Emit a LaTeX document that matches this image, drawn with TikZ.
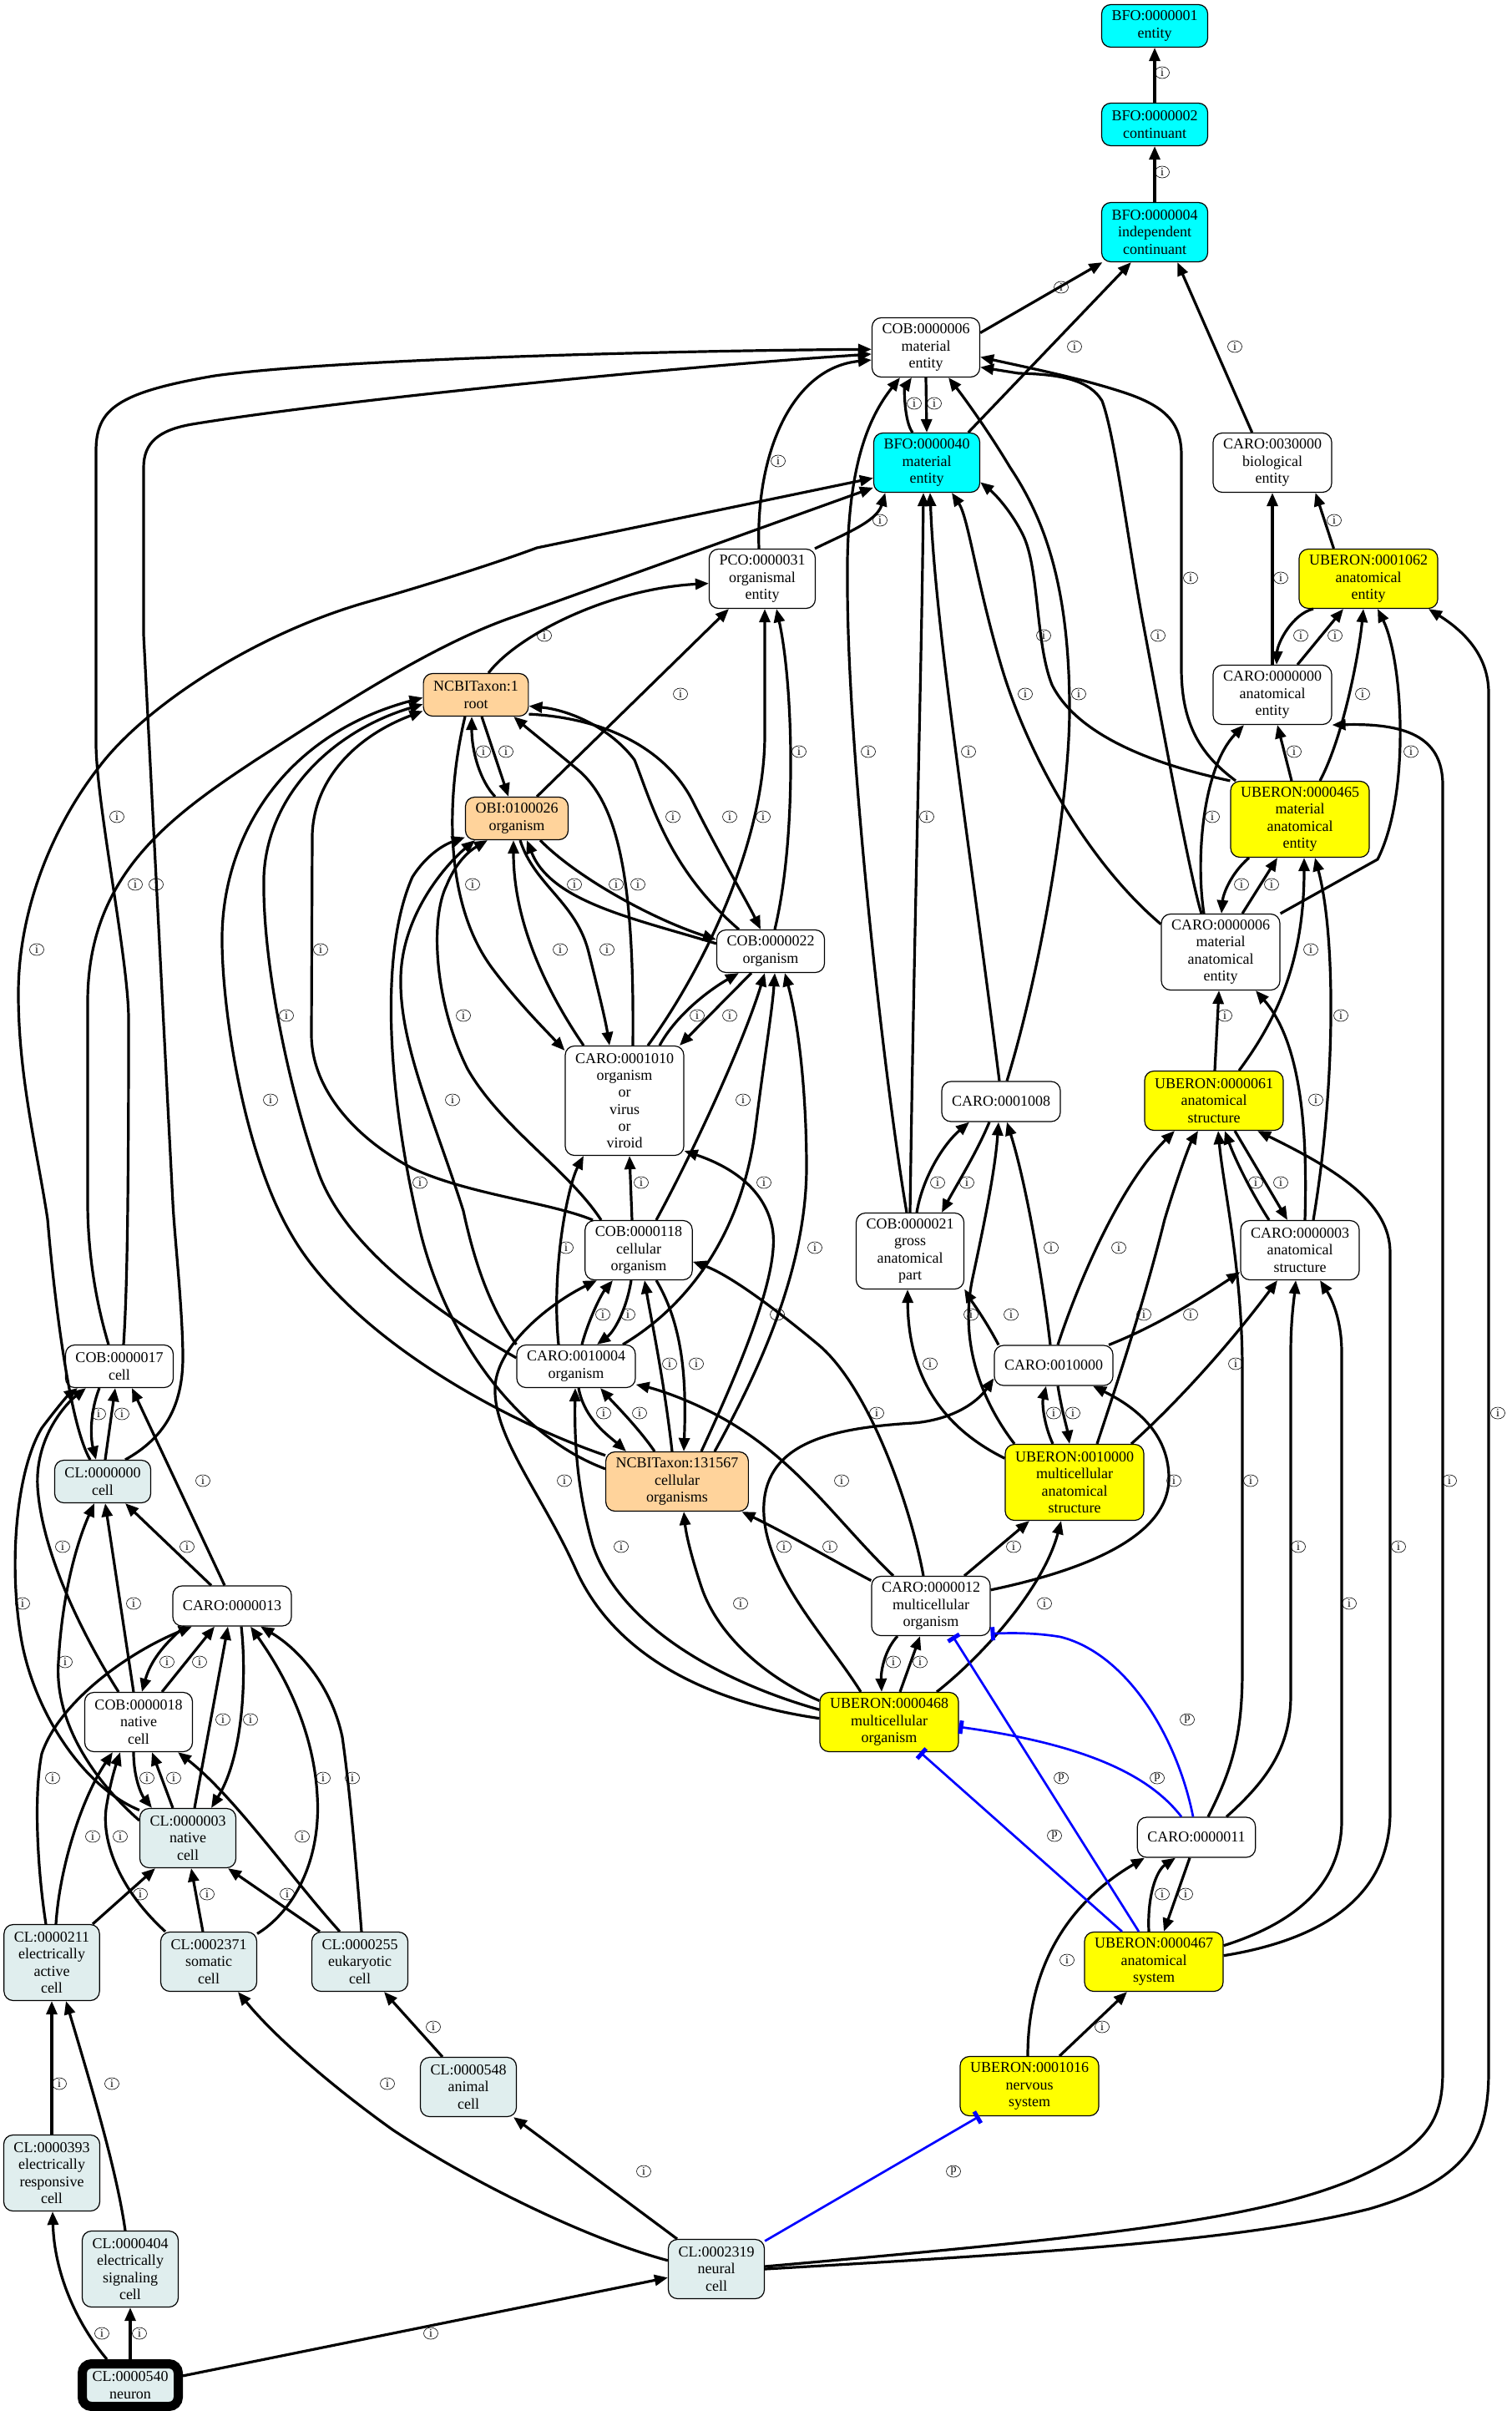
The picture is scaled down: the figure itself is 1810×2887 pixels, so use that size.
\documentclass[tikz,border=0pt]{standalone}
\usepackage{fontspec}
\setmainfont{Liberation Serif}
\usetikzlibrary{arrows.meta,shapes.geometric}
\definecolor{bfocyan}{HTML}{00FFFF}
\definecolor{ubyellow}{HTML}{FFFF00}
\definecolor{ncbiorange}{HTML}{FFD39B}
\definecolor{clazure}{HTML}{E0EEEE}
\newcommand\ndfont{\fontsize{18}{20.3}\selectfont}
\newcommand\lbfont{\fontsize{14}{14}\selectfont}
\begin{document}
\begin{tikzpicture}[x=1pt,y=-1pt,
  nd/.style={draw=black,line width=1.2pt,rounded corners=11pt,align=center,inner xsep=12pt,inner ysep=2pt,font=\ndfont,fill=white},
  h1/.style={minimum height=48pt},
  h2/.style={minimum height=51pt},
  h3/.style={minimum height=71pt},
  h4/.style={minimum height=91pt},
  h6/.style={minimum height=131pt},
  fc/.style={fill=bfocyan},
  fy/.style={fill=ubyellow},
  fo/.style={fill=ncbiorange},
  fa/.style={fill=clazure},
  ie/.style={draw=black,line width=3.2pt,-{Triangle[length=16pt,width=13pt]}},
  pe/.style={draw=blue,line width=2.7pt,-{Rectangle[length=5pt,width=16pt]}},
  lab/.style={draw,ellipse,line width=0.6pt,inner sep=0pt,minimum width=17pt,minimum height=14pt,font=\lbfont}
]
\useasboundingbox (0,0) rectangle (1810,2887);

% ---------- nodes ----------
\node[nd,h2,fc] (b1) at (1383,31) {BFO:0000001\\entity};
\node[nd,h2,fc] (b2) at (1383,149) {BFO:0000002\\continuant};
\node[nd,h3,fc] (b4) at (1383,278) {BFO:0000004\\independent\\continuant};
\node[nd,h3] (c6) at (1109,416) {COB:0000006\\material\\entity};
\node[nd,h3,fc] (b40) at (1110,554) {BFO:0000040\\material\\entity};
\node[nd,h3] (c30) at (1524,554) {CARO:0030000\\biological\\entity};
\node[nd,h3,fy] (u1062) at (1639,693) {UBERON:0001062\\anatomical\\entity};
\node[nd,h3] (p31) at (913,693) {PCO:0000031\\organismal\\entity};
\node[nd,h3] (c0) at (1524,832) {CARO:0000000\\anatomical\\entity};
\node[nd,h2,fo] (n1) at (570,832) {NCBITaxon:1\\root};
\node[nd,h4,fy] (u465) at (1557,981) {UBERON:0000465\\material\\anatomical\\entity};
\node[nd,h2,fo] (obi) at (619,980) {OBI:0100026\\organism};
\node[nd,h2] (c22) at (923,1139) {COB:0000022\\organism};
\node[nd,h4] (ca6) at (1462,1140) {CARO:0000006\\material\\anatomical\\entity};
\node[nd,h6] (c1010) at (748,1318) {CARO:0001010\\organism\\or\\virus\\or\\viroid};
\node[nd,h3,fy] (u61) at (1454,1318) {UBERON:0000061\\anatomical\\structure};
\node[nd,h1] (c1008) at (1199,1319) {CARO:0001008};
\node[nd,h3] (c118) at (765,1497) {COB:0000118\\cellular\\organism};
\node[nd,h4] (c21) at (1090,1498) {COB:0000021\\gross\\anatomical\\part};
\node[nd,h3] (ca3) at (1557,1497) {CARO:0000003\\anatomical\\structure};
\node[nd,h2] (c10004) at (690,1636) {CARO:0010004\\organism};
\node[nd,h1] (c10000) at (1262,1635) {CARO:0010000};
\node[nd,h2] (c17) at (143,1636) {COB:0000017\\cell};
\node[nd,h2,fa] (cl0) at (123,1774) {CL:0000000\\cell};
\node[nd,h3,fo] (n131) at (811,1774) {NCBITaxon:131567\\cellular\\organisms};
\node[nd,h4,fy] (u10000) at (1287,1775) {UBERON:0010000\\multicellular\\anatomical\\structure};
\node[nd,h1] (ca13) at (278,1923) {CARO:0000013};
\node[nd,h3] (ca12) at (1115,1923) {CARO:0000012\\multicellular\\organism};
\node[nd,h3] (c18) at (166,2062) {COB:0000018\\native\\cell};
\node[nd,h3,fy] (u468) at (1065,2062) {UBERON:0000468\\multicellular\\organism};
\node[nd,h3,fa] (cl3) at (225,2201) {CL:0000003\\native\\cell};
\node[nd,h1] (ca11) at (1433,2200) {CARO:0000011};
\node[nd,h4,fa] (cl211) at (62,2350) {CL:0000211\\electrically\\active\\cell};
\node[nd,h3,fa] (cl2371) at (250,2349) {CL:0002371\\somatic\\cell};
\node[nd,h3,fa] (cl255) at (431,2349) {CL:0000255\\eukaryotic\\cell};
\node[nd,h3,fy] (u467) at (1382,2349) {UBERON:0000467\\anatomical\\system};
\node[nd,h3,fa] (cl548) at (561,2499) {CL:0000548\\animal\\cell};
\node[nd,h3,fy] (u1016) at (1233,2498) {UBERON:0001016\\nervous\\system};
\node[nd,h4,fa] (cl393) at (62,2602) {CL:0000393\\electrically\\responsive\\cell};
\node[nd,h4,fa] (cl404) at (156,2717) {CL:0000404\\electrically\\signaling\\cell};
\node[nd,h3,fa] (cl2319) at (858,2717) {CL:0002319\\neural\\cell};
\node[nd,h2,fa,line width=11pt] (cl540) at (156,2856) {CL:0000540\\neuron};

% ---------- top ----------
\draw[ie] (b2.north) -- (b1.south);
\draw[ie] (b4.north) -- (b2.south);
\draw[ie] (c6.15) -- (b4.210);
\draw[ie] (b40.36) -- (b4.232);
\draw[ie] (c30.124) -- (b4.-53);
\draw[ie] ([xshift=-17pt]b40.north) .. controls (1083,505) and (1083,465) .. ([xshift=-17pt]c6.south);
\draw[ie] (c6.south) -- (b40.north);
\draw[ie] ([xshift=-4pt]p31.north) .. controls (905,540) and (950,440) .. (c6.193);
\draw[ie] ([xshift=63pt]p31.north) .. controls (1010,640) and (1050,625) .. (b40.216);
\draw[ie] (u1062.139) -- (c30.-35);
\draw[ie] (c0.north) -- (c30.south);
\draw[ie] ([xshift=-66pt]u1062.south) .. controls (1548,735) and (1530,770) .. ([xshift=5pt]c0.north);
\draw[ie] ([xshift=30pt]c0.north) -- ([xshift=-30pt]u1062.south);
\draw[ie] ([xshift=24pt]u465.north) .. controls (1610,880) and (1628,780) .. ([xshift=-6pt]u1062.south);
\draw[ie] (ca6.north east) -- (1650,1029) .. controls (1690,950) and (1680,790) .. ([xshift=11pt]u1062.south);
\draw[ie] (cl2319.east) .. controls (1300,2695) and (1500,2680) .. (1640,2645) .. controls (1760,2610) and (1783,2560) .. (1783,2480) -- (1783,830) .. controls (1783,790) and (1760,760) .. ([xshift=72pt]u1062.south);
\draw[ie] (cl2319.3) .. controls (1300,2680) and (1500,2660) .. (1620,2610) .. controls (1710,2570) and (1728,2540) .. (1728,2480) -- (1728,940) .. controls (1728,880) and (1680,866) .. (c0.south east);
\draw[ie] ([xshift=-10pt]u465.north) -- ([xshift=6pt]c0.south);
\draw[ie] ([xshift=-20pt]ca6.north) .. controls (1432,1030) and (1440,920) .. ([xshift=-34pt]c0.south);
\draw[ie] ([xshift=-61pt]u465.south) .. controls (1475,1045) and (1465,1070) .. ([xshift=1pt]ca6.north);
\draw[ie] ([xshift=26pt]ca6.north) -- ([xshift=-27pt]u465.south);
\draw[ie] ([xshift=-23pt]ca6.north) .. controls (1425,1050) and (1385,830) .. (1368,740) .. controls (1350,640) and (1335,520) .. (1320,480) .. controls (1305,455) and (1270,448) .. (1220,447) -- (c6.-20);
\draw[ie] ([xshift=-77pt]u465.north) .. controls (1440,905) and (1415,870) .. (1415,800) -- (1415,545) .. controls (1415,505) and (1395,485) .. (1340,468) .. controls (1290,452) and (1230,440) .. (c6.-10);
\draw[ie] (u465.north west) .. controls (1380,915) and (1290,880) .. (1260,820) .. controls (1240,770) and (1245,680) .. (1225,640) .. controls (1210,610) and (1190,590) .. (b40.-20);
\draw[ie] ([xshift=-4pt]c21.north) .. controls (1060,1300) and (1015,900) .. (1015,700) .. controls (1013,560) and (1040,500) .. ([xshift=-31pt]c6.south);
\draw[ie] (c21.north) .. controls (1095,1100) and (1104,800) .. ([xshift=-4pt]b40.south);
\draw[ie] ([xshift=-2pt]c1008.north) .. controls (1160,1000) and (1120,750) .. ([xshift=4pt]b40.south);
\draw[ie] (ca6.155) .. controls (1300,1030) and (1230,900) .. (1200,800) .. controls (1170,700) and (1160,620) .. ([xshift=30pt]b40.south);
\draw[ie] ([xshift=7pt]c1008.north) .. controls (1250,1150) and (1281,950) .. (1281,850) .. controls (1281,700) and (1250,620) .. (1210,560) .. controls (1180,510) and (1150,470) .. ([xshift=27pt]c6.south);

% ---------- organism cluster ----------
\draw[ie] ([xshift=5pt]c22.north) .. controls (955,1000) and (950,820) .. ([xshift=17pt]p31.south);
\draw[ie] ([xshift=24pt]obi.north) -- ([xshift=-40pt]p31.south);
\draw[ie] ([xshift=28pt]c1010.north) .. controls (850,1150) and (916,1000) .. (916,880) -- ([xshift=3pt]p31.south);
\draw[ie] ([xshift=15pt]n1.north) .. controls (620,760) and (730,705) .. (p31.-175);
\draw[ie] ([xshift=7pt]n1.south) -- ([xshift=-10pt]obi.north);
\draw[ie] ([xshift=-26pt]obi.north) .. controls (575,935) and (565,900) .. ([xshift=-5pt]n1.south);
\draw[ie] ([xshift=-13pt]n1.south) .. controls (535,950) and (530,1080) .. (590,1160) .. controls (620,1200) and (650,1230) .. (c1010.140);
\draw[ie] ([xshift=10pt]c1010.north) .. controls (760,1050) and (740,960) .. (690,920) .. controls (660,895) and (635,875) .. (n1.-30);
\draw[ie] ([xshift=-38pt]c22.north) .. controls (800,1040) and (780,960) .. (760,910) .. controls (730,870) and (680,850) .. (n1.-12);
\draw[ie] (n1.-20) .. controls (730,860) and (800,900) .. (830,960) .. controls (860,1020) and (895,1080) .. ([xshift=-12pt]c22.north);
\draw[ie] ([xshift=28pt]obi.south) .. controls (690,1050) and (780,1100) .. (c22.168);
\draw[ie] (c22.172) .. controls (760,1100) and (660,1080) .. ([xshift=12pt]obi.south);
\draw[ie] ([xshift=-49pt]c1010.north) .. controls (650,1180) and (615,1100) .. ([xshift=-4pt]obi.south);
\draw[ie] ([xshift=4pt]obi.south) .. controls (640,1060) and (690,1080) .. (705,1140) .. controls (715,1180) and (725,1220) .. ([xshift=-18pt]c1010.north);
\draw[ie] ([xshift=-23pt]c22.south) -- ([xshift=66pt]c1010.north);
\draw[ie] ([xshift=42pt]c1010.north) .. controls (810,1215) and (850,1185) .. ([xshift=-38pt]c22.south);

\draw[ie] ([xshift=-8pt]c118.north) -- ([xshift=6pt]c1010.south);
\draw[ie] ([xshift=-21pt]c10004.north) .. controls (660,1520) and (680,1420) .. ([xshift=-49pt]c1010.south);
\draw[ie] ([xshift=21pt]c118.north) .. controls (830,1380) and (890,1250) .. ([xshift=-7pt]c22.south);
\draw[ie] ([xshift=56pt]c10004.north) .. controls (830,1560) and (890,1470) .. (905,1350) .. controls (915,1270) and (925,1210) .. ([xshift=5pt]c22.south);
\draw[ie] ([xshift=45pt]n131.north) .. controls (910,1640) and (965,1520) .. (966,1400) .. controls (966,1300) and (955,1220) .. ([xshift=17pt]c22.south);
\draw[ie] ([xshift=29pt]n131.north) .. controls (890,1630) and (935,1520) .. (925,1470) .. controls (915,1420) and (870,1395) .. (c1010.-40);
\draw[ie] ([xshift=-55pt]c118.north) .. controls (660,1440) and (560,1430) .. (494,1399) .. controls (420,1360) and (373,1300) .. (373,1239) -- (374,1000) .. controls (376,930) and (430,880) .. (n1.197);
\draw[ie] (c10004.172) .. controls (520,1570) and (410,1490) .. (380,1400) .. controls (345,1300) and (314,1150) .. (316,1050) .. controls (320,950) and (400,875) .. (n1.190);
\draw[ie] (n131.160) .. controls (600,1700) and (420,1600) .. (350,1480) .. controls (290,1380) and (265,1200) .. (266,1120) .. controls (268,1000) and (340,880) .. (n1.183);
\draw[ie] (n131.170) .. controls (620,1720) and (530,1600) .. (500,1460) .. controls (470,1330) and (450,1150) .. (494,1050) .. controls (510,1025) and (530,1012) .. (obi.200);
\draw[ie] (c10004.160) .. controls (590,1570) and (570,1520) .. (555,1450) .. controls (520,1340) and (478,1250) .. (480,1170) .. controls (482,1090) and (540,1030) .. ([xshift=-50pt]obi.south);
\draw[ie] ([xshift=-45pt]c118.north) .. controls (680,1400) and (600,1350) .. (560,1280) .. controls (520,1200) and (515,1100) .. (535,1060) .. controls (545,1035) and (560,1020) .. ([xshift=-35pt]obi.south);
\draw[ie] ([xshift=7pt]c10004.north) .. controls (705,1580) and (720,1550) .. ([xshift=-31pt]c118.south);
\draw[ie] ([xshift=-9pt]c118.south) .. controls (750,1570) and (735,1595) .. ([xshift=25pt]c10004.north);
\draw[ie] ([xshift=3pt]c10004.south) .. controls (700,1700) and (730,1720) .. ([xshift=-61pt]n131.north);
\draw[ie] ([xshift=-27pt]n131.north) .. controls (765,1710) and (735,1680) .. ([xshift=29pt]c10004.south);
\draw[ie] ([xshift=-6pt]n131.north) .. controls (795,1650) and (780,1580) .. ([xshift=7pt]c118.south);
\draw[ie] ([xshift=21pt]c118.south) .. controls (820,1590) and (822,1660) .. ([xshift=8pt]n131.north);

% ---------- CARO:0000012 / UBERON:0000468 ----------
\draw[ie] ([xshift=-45pt]ca12.north) .. controls (1000,1820) and (950,1740) .. (850,1690) .. controls (810,1670) and (780,1662) .. (c10004.-17);
\draw[ie] ([xshift=-9pt]ca12.north) .. controls (1090,1800) and (1040,1660) .. (980,1610) .. controls (920,1560) and (870,1525) .. (c118.-12);
\draw[ie] (ca12.157) .. controls (1000,1870) and (950,1840) .. (n131.-25);
\draw[ie] ([xshift=40pt]ca12.north) -- ([xshift=-54pt]u10000.south);
\draw[ie] (ca12.15) .. controls (1300,1880) and (1400,1840) .. (1400,1770) .. controls (1400,1710) and (1350,1680) .. ([xshift=47pt]c10000.south);
\draw[ie] ([xshift=13pt]u468.north) -- ([xshift=-13pt]ca12.south);
\draw[ie] ([xshift=-40pt]ca12.south) .. controls (1060,1975) and (1055,2000) .. ([xshift=-9pt]u468.north);
\draw[ie] (u468.163) .. controls (920,2010) and (860,1960) .. (840,1900) .. controls (830,1870) and (822,1840) .. ([xshift=8pt]n131.south);
\draw[ie] (u468.170) .. controls (850,2010) and (740,1940) .. (710,1850) .. controls (690,1780) and (688,1720) .. ([xshift=-1pt]c10004.south);
\draw[ie] (u468.177) .. controls (860,2040) and (740,1990) .. (690,1880) .. controls (650,1790) and (590,1720) .. (593,1660) .. controls (596,1610) and (660,1560) .. ([xshift=-50pt]c118.south);
\draw[ie] ([xshift=-34pt]u468.north) .. controls (990,1960) and (910,1880) .. (915,1800) .. controls (920,1730) and (990,1710) .. (1094,1704) .. controls (1140,1700) and (1170,1680) .. (c10000.-168);
\draw[ie] ([xshift=57pt]u468.north) .. controls (1180,1980) and (1250,1900) .. ([xshift=-16pt]u10000.south);

% ---------- UBERON:0010000 / CARO:0010000 ----------
\draw[ie] ([xshift=-26pt]u10000.north) .. controls (1250,1705) and (1248,1680) .. ([xshift=-9pt]c10000.south);
\draw[ie] ([xshift=5pt]c10000.south) .. controls (1272,1690) and (1278,1710) .. ([xshift=-6pt]u10000.north);
\draw[ie] ([xshift=27pt]u10000.north) .. controls (1340,1650) and (1370,1560) .. (1395,1460) .. controls (1410,1410) and (1425,1370) .. ([xshift=-19pt]u61.south);
\draw[ie] ([xshift=68pt]u10000.north) .. controls (1420,1670) and (1480,1600) .. ([xshift=-27pt]ca3.south);
\draw[ie] (u10000.161) .. controls (1130,1710) and (1088,1650) .. ([xshift=-3pt]c21.south);
\draw[ie] ([xshift=-72pt]u10000.north) .. controls (1170,1670) and (1150,1600) .. (1165,1530) .. controls (1180,1460) and (1192,1400) .. ([xshift=-3pt]c1008.south);
\draw[ie] ([xshift=-4pt]c10000.north) .. controls (1250,1540) and (1230,1420) .. ([xshift=7pt]c1008.south);
\draw[ie] ([xshift=5pt]c10000.north) .. controls (1290,1540) and (1340,1420) .. ([xshift=-47pt]u61.south);
\draw[ie] ([xshift=66pt]c10000.north) .. controls (1380,1590) and (1430,1560) .. (ca3.200);
\draw[ie] ([xshift=-66pt]c10000.north) .. controls (1180,1580) and (1165,1560) .. (c21.-35);
\draw[ie] ([xshift=8pt]c21.north) .. controls (1105,1410) and (1130,1370) .. ([xshift=-38pt]c1008.south);
\draw[ie] ([xshift=-14pt]c1008.south) .. controls (1170,1380) and (1145,1420) .. ([xshift=38pt]c21.north);

% ---------- anatomical structure cluster ----------
\draw[ie] ([xshift=14pt]ca11.north) .. controls (1475,2120) and (1488,2080) .. (1488,2000) -- (1488,1640) .. controls (1488,1520) and (1465,1420) .. ([xshift=5pt]u61.south);
\draw[ie] ([xshift=36pt]ca11.north) .. controls (1520,2130) and (1546,2090) .. (1546,2030) -- (1546,1620) .. controls (1546,1580) and (1550,1555) .. ([xshift=-5pt]ca3.south);
\draw[ie] (u467.13) .. controls (1560,2300) and (1607,2250) .. (1607,2180) -- (1607,1620) .. controls (1607,1580) and (1595,1555) .. ([xshift=24pt]ca3.south);
\draw[ie] (u467.5) .. controls (1600,2320) and (1665,2260) .. (1665,2170) -- (1665,1500) .. controls (1665,1440) and (1600,1400) .. ([xshift=52pt]u61.south);
\draw[ie] ([xshift=25pt]u61.south) -- ([xshift=-15pt]ca3.north);
\draw[ie] ([xshift=-37pt]ca3.north) .. controls (1500,1430) and (1480,1390) .. ([xshift=13pt]u61.south);
\draw[ie] ([xshift=1pt]u61.north) -- ([xshift=-2pt]ca6.south);
\draw[ie] ([xshift=30pt]u61.north) .. controls (1530,1220) and (1562,1150) .. ([xshift=5pt]u465.south);
\draw[ie] ([xshift=6pt]ca3.north) .. controls (1566,1360) and (1560,1250) .. ([xshift=42pt]ca6.south);
\draw[ie] ([xshift=16pt]ca3.north) .. controls (1600,1300) and (1600,1120) .. ([xshift=18pt]u465.south);

% ---------- cell cluster ----------
\draw[ie] ([xshift=5pt]c17.north) .. controls (152,1550) and (154,1450) .. (154,1220) .. controls (154,1150) and (115,960) .. (115,890) -- (115,540) .. controls (115,490) and (140,470) .. (257,450) .. controls (400,430) and (800,420) .. (c6.182);
\draw[ie] ([xshift=27pt]cl0.north) .. controls (200,1720) and (220,1680) .. (219,1620) .. controls (218,1560) and (209,1480) .. (207,1440) -- (172,760) -- (172,560) .. controls (172,530) and (190,515) .. (230,508) .. controls (400,480) and (800,440) .. (c6.187);
\draw[ie] ([xshift=-13pt]c17.north) .. controls (115,1560) and (105,1500) .. (105,1440) -- (105,1200) .. controls (105,1050) and (200,980) .. (308,909) .. controls (400,850) and (520,770) .. (620,737) -- (b40.205);
\draw[ie] ([xshift=-15pt]cl0.north) .. controls (80,1700) and (62,1520) .. (57,1460) .. controls (45,1380) and (22,1290) .. (22,1190) .. controls (22,1080) and (70,980) .. (119,918) .. controls (170,850) and (300,760) .. (443,720) .. controls (520,698) and (600,672) .. (643,656) -- (b40.196);
\draw[ie] ([xshift=-24pt]c17.south) .. controls (108,1690) and (108,1720) .. ([xshift=-8pt]cl0.north);
\draw[ie] ([xshift=3pt]cl0.north) -- ([xshift=-5pt]c17.south);
\draw[ie] ([xshift=-25pt]ca13.north) -- ([xshift=27pt]cl0.south);
\draw[ie] ([xshift=-9pt]ca13.north) -- ([xshift=15pt]c17.south);
\draw[ie] ([xshift=-24pt]c18.north) .. controls (100,1960) and (50,1860) .. (45,1780) .. controls (42,1720) and (80,1680) .. ([xshift=-40pt]c17.south);
\draw[ie] (cl3.150) .. controls (100,2140) and (40,2050) .. (25,1960) .. controls (10,1870) and (20,1760) .. (50,1710) .. controls (65,1690) and (80,1672) .. ([xshift=-50pt]c17.south);
\draw[ie] ([xshift=-6pt]c18.north) -- ([xshift=3pt]cl0.south);
\draw[ie] (cl3.160) .. controls (110,2130) and (65,2060) .. (70,1990) .. controls (75,1900) and (95,1840) .. ([xshift=-10pt]cl0.south);
\draw[ie] ([xshift=-57pt]ca13.south) .. controls (195,1970) and (180,1990) .. ([xshift=4pt]c18.north);
\draw[ie] ([xshift=28pt]c18.north) -- ([xshift=-21pt]ca13.south);
\draw[ie] ([xshift=-7pt]cl211.north) .. controls (45,2240) and (40,2150) .. (50,2100) .. controls (70,2040) and (150,1980) .. ([xshift=-48pt]ca13.south);
\draw[ie] ([xshift=8pt]cl3.north) -- ([xshift=-5pt]ca13.south);
\draw[ie] ([xshift=11pt]ca13.south) .. controls (295,2000) and (293,2100) .. ([xshift=28pt]cl3.north);
\draw[ie] (cl2371.30) .. controls (350,2290) and (385,2230) .. (380,2150) .. controls (375,2060) and (330,1990) .. ([xshift=22pt]ca13.south);
\draw[ie] ([xshift=2pt]cl255.north) .. controls (428,2250) and (420,2150) .. (410,2080) .. controls (395,2010) and (350,1970) .. ([xshift=34pt]ca13.south);
\draw[ie] ([xshift=5pt]cl211.north) .. controls (72,2230) and (100,2150) .. ([xshift=-31pt]c18.south);
\draw[ie] ([xshift=-52pt]cl2371.north) .. controls (140,2260) and (120,2200) .. (128,2160) .. controls (133,2130) and (140,2110) .. ([xshift=-22pt]c18.south);
\draw[ie] ([xshift=-6pt]c18.south) .. controls (160,2130) and (170,2150) .. ([xshift=-43pt]cl3.north);
\draw[ie] ([xshift=-18pt]cl3.north) -- ([xshift=16pt]c18.south);
\draw[ie] ([xshift=-24pt]cl255.north) .. controls (350,2250) and (280,2150) .. ([xshift=47pt]c18.south);
\draw[ie] ([xshift=49pt]cl211.north) -- ([xshift=-39pt]cl3.south);
\draw[ie] ([xshift=-7pt]cl2371.north) -- ([xshift=4pt]cl3.south);
\draw[ie] ([xshift=-48pt]cl255.north) -- ([xshift=48pt]cl3.south);
\draw[ie] (cl393.north) -- (cl211.south);
\draw[ie] ([xshift=-6pt]cl404.north) .. controls (140,2600) and (110,2500) .. ([xshift=17pt]cl211.south);
\draw[ie] ([xshift=-28pt]cl540.north) .. controls (90,2780) and (65,2720) .. ([xshift=1pt]cl393.south);
\draw[ie] (cl540.north) -- (cl404.south);
\draw[ie] (cl540.10) -- (cl2319.190);
\draw[ie] (cl2319.170) .. controls (700,2680) and (560,2610) .. (470,2550) .. controls (400,2500) and (330,2440) .. ([xshift=35pt]cl2371.south);
\draw[ie] ([xshift=-47pt]cl2319.north) -- ([xshift=54pt]cl548.south);
\draw[ie] ([xshift=-31pt]cl548.north) -- ([xshift=29pt]cl255.south);

% ---------- systems ----------
\draw[ie] ([xshift=36pt]u1016.north) -- ([xshift=-32pt]u467.south);
\draw[ie] ([xshift=-2pt]u1016.north) .. controls (1231,2380) and (1260,2290) .. ([xshift=-62pt]ca11.south);
\draw[ie] ([xshift=-6pt]u467.north) .. controls (1374,2270) and (1385,2240) .. ([xshift=-25pt]ca11.south);
\draw[ie] ([xshift=-8pt]ca11.south) -- ([xshift=12pt]u467.north);

% ---------- part_of ----------
\draw[pe] (cl2319.30) -- ([xshift=-60pt]u1016.south);
\draw[pe] ([xshift=-18pt]u467.north) -- ([xshift=26pt]ca12.south);
\draw[pe] ([xshift=-38pt]u467.north) -- ([xshift=37pt]u468.south);
\draw[pe] ([xshift=-18pt]ca11.north) .. controls (1380,2130) and (1310,2090) .. (u468.-4);
\draw[pe] ([xshift=-4pt]ca11.north) .. controls (1410,2080) and (1350,1980) .. (1270,1960) .. controls (1240,1955) and (1210,1955) .. (ca12.-25);

% ---------- edge labels ----------
\foreach \x/\y [count=\k] in {1392/87,1392/206,1271/344,1287/415,1479/415,1598/623,1534/692,1426/692,
 1095/483,1119/483,932/552,1054/623,
 652/761,815/831,957/900,1040/900,1160/900,806/978,874/978,914/978,1110/978,688/1059,738/1059,764/1059,671/1137,727/1137,835/1216,874/1216,890/1317,768/1416,915/1416,1123/1416,1158/1416,
 579/900,606/900,140/978,162/1059,187/1059,44/1137,566/1059,384/1137,343/1216,555/1216,324/1317,542/1317,503/1416,
 1250/761,1387/761,1558/761,1599/761,1228/831,1292/831,1632/831,1550/900,1690/900,1452/978,1487/1059,1523/1059,1570/1137,1467/1216,1606/1216,1576/1317,1504/1416,1534/1416,
 118/1693,146/1693,243/1773,75/1852,224/1852,27/1920,160/1920,78/1990,200/1990,239/1990,267/2059,300/2059,63/2129,176/2129,208/2129,387/2129,422/2129,
 678/1494,976/1494,722/1574,752/1574,931/1574,1163/1574,1211/1574,802/1633,834/1633,1114/1633,723/1692,766/1692,1050/1692,676/1773,1008/1773,744/1852,939/1852,994/1852,887/1920,1070/1990,1102/1990,
 1259/1494,1340/1494,1370/1574,1426/1574,1480/1633,1262/1692,1285/1692,1794/1692,1406/1773,1498/1773,1736/1773,1214/1852,1555/1852,1675/1852,1251/1920,1616/1920,
 111/2199,144/2199,362/2199,168/2268,248/2268,344/2268,519/2427,71/2495,134/2495,464/2495,122/2794,167/2794,516/2794,
 771/2600,1392/2268,1420/2268,1278/2347,1320/2427}
  \node[lab] (li\k) at (\x,\y) {i};
\foreach \x/\y [count=\k] in {1422/2059,1271/2129,1386/2129,1142/2600,1263/2198}
  \node[lab] (lp\k) at (\x,\y) {p};
\end{tikzpicture}
\end{document}
